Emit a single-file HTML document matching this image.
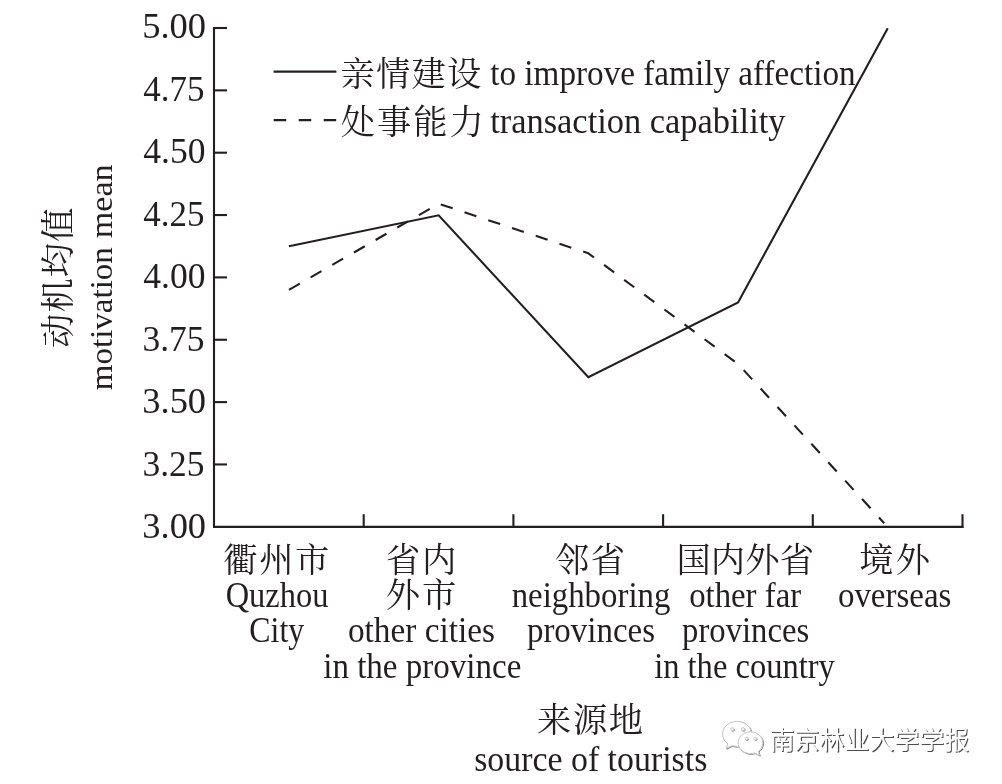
<!DOCTYPE html>
<html lang="zh">
<head>
<meta charset="utf-8">
<title>动机均值 motivation mean — 来源地 source of tourists</title>
<style>
html,body{margin:0;padding:0;background:#fff;}
body{width:1002px;height:784px;overflow:hidden;}
svg{display:block;}
text{fill:#231f20;white-space:pre;}
.la,.num{font-family:"Liberation Serif","Noto Serif CJK SC",serif;}
.cj{font-family:"Noto Serif CJK SC","Liberation Serif",serif;}
.ln{stroke:#231f20;stroke-width:2.1;fill:none;}
.wm{font-family:"Liberation Sans","Noto Sans CJK SC",sans-serif;}
</style>
</head>
<body>
<svg width="1002" height="784" viewBox="0 0 1002 784">
<rect x="0" y="0" width="1002" height="784" fill="#ffffff"/>

<g class="ln" id="axes">
<path d="M214.00 27.80 V526.85 H963.50"/>
<path d="M212.95 28.00 H227"/>
<path d="M212.95 90.35 H227"/>
<path d="M212.95 152.70 H227"/>
<path d="M212.95 215.05 H227"/>
<path d="M212.95 277.40 H227"/>
<path d="M212.95 339.75 H227"/>
<path d="M212.95 402.10 H227"/>
<path d="M212.95 464.45 H227"/>
<path d="M363.70 527.9 V514.2"/>
<path d="M513.40 527.9 V514.2"/>
<path d="M663.10 527.9 V514.2"/>
<path d="M812.80 527.9 V514.2"/>
<path d="M962.50 527.9 V514.2"/>
</g>
<g id="data">
<polyline class="ln" stroke-width="2" stroke-linejoin="miter" points="288.95,246.20 438.65,215.30 588.35,377.20 738.05,302.40 887.75,28.20"/>
<polyline class="ln" stroke-width="2" stroke-linejoin="round" stroke-dasharray="12.5 12.5" points="288.95,289.90 438.65,203.70 588.35,253.30 738.05,364.00 884.20,523.20"/>
</g>
<g id="legend"><path class="ln" d="M273.6 71.6 H336.4"/>
<path class="ln" d="M273.7 120.1 H336.4" stroke-dasharray="12.5 12.5"/></g>
<text id="lg1c" class="cj" font-size="34.30" x="340.44" y="85.60" textLength="140.99" lengthAdjust="spacing">亲情建设</text>
<text id="lg1l" class="la" font-size="35.00" x="490.22" y="85.20" textLength="365.46" lengthAdjust="spacingAndGlyphs">to improve family affection</text>
<text id="lg2c" class="cj" font-size="34.30" x="340.68" y="133.60" textLength="143.07" lengthAdjust="spacing">处事能力</text>
<text id="lg2l" class="la" font-size="35.00" x="490.20" y="133.40" textLength="295.29" lengthAdjust="spacingAndGlyphs">transaction capability</text>
<text id="x1a" class="cj" font-size="34.30" x="223.25" y="572.00" textLength="106.14" lengthAdjust="spacing">衢州市</text>
<text id="x1b" class="la" font-size="35.00" x="225.64" y="607.10" textLength="102.75" lengthAdjust="spacingAndGlyphs">Quzhou</text>
<text id="x1c" class="la" font-size="35.00" x="249.36" y="642.40" textLength="54.89" lengthAdjust="spacingAndGlyphs">City</text>
<text id="x2a" class="cj" font-size="34.30" x="385.89" y="572.00" textLength="70.37" lengthAdjust="spacing">省内</text>
<text id="x2b" class="cj" font-size="34.30" x="385.84" y="607.00" textLength="70.47" lengthAdjust="spacing">外市</text>
<text id="x2c" class="la" font-size="35.00" x="347.99" y="642.40" textLength="146.88" lengthAdjust="spacingAndGlyphs">other cities</text>
<text id="x2d" class="la" font-size="35.00" x="323.23" y="677.50" textLength="198.13" lengthAdjust="spacingAndGlyphs">in the province</text>
<text id="x3a" class="cj" font-size="34.30" x="554.91" y="572.00" textLength="70.27" lengthAdjust="spacing">邻省</text>
<text id="x3b" class="la" font-size="35.00" x="511.63" y="607.10" textLength="158.78" lengthAdjust="spacingAndGlyphs">neighboring</text>
<text id="x3c" class="la" font-size="35.00" x="526.93" y="642.40" textLength="128.08" lengthAdjust="spacingAndGlyphs">provinces</text>
<text id="x4a" class="cj" font-size="34.30" x="676.41" y="572.00" textLength="137.58" lengthAdjust="spacing">国内外省</text>
<text id="x4b" class="la" font-size="35.00" x="689.13" y="607.10" textLength="112.02" lengthAdjust="spacingAndGlyphs">other far</text>
<text id="x4c" class="la" font-size="35.00" x="682.08" y="642.40" textLength="127.10" lengthAdjust="spacingAndGlyphs">provinces</text>
<text id="x4d" class="la" font-size="35.00" x="654.13" y="677.50" textLength="180.73" lengthAdjust="spacingAndGlyphs">in the country</text>
<text id="x5a" class="cj" font-size="34.30" x="859.17" y="572.00" textLength="70.94" lengthAdjust="spacing">境外</text>
<text id="x5b" class="la" font-size="35.00" x="837.91" y="607.10" textLength="113.51" lengthAdjust="spacingAndGlyphs">overseas</text>
<text id="xt1" class="cj" font-size="34.30" x="537.06" y="731.80" textLength="106.11" lengthAdjust="spacing">来源地</text>
<text id="xt2" class="la" font-size="35.00" x="474.16" y="771.00" textLength="233.16" lengthAdjust="spacingAndGlyphs">source of tourists</text>
<text id="yl1" class="cj" font-size="34.30" transform="translate(69.80,0) rotate(-90)" x="-347.92" y="0" textLength="140.31" lengthAdjust="spacing">动机均值</text>
<text id="yl2" class="la" font-size="32.60" transform="translate(111.80,0) rotate(-90)" x="-390.16" y="0" textLength="143.03" lengthAdjust="spacingAndGlyphs">motivation</text>
<text id="yl3" class="la" font-size="32.60" transform="translate(111.80,0) rotate(-90)" x="-238.23" y="0" textLength="73.91" lengthAdjust="spacingAndGlyphs">mean</text>
<text id="yt0" class="num" font-size="36.00" transform="translate(142.13,38.45) scale(1,1.020)" textLength="63.90" lengthAdjust="spacingAndGlyphs">5.00</text>
<text id="yt1" class="num" font-size="36.00" transform="translate(143.32,100.92) scale(1,1.020)" textLength="61.23" lengthAdjust="spacingAndGlyphs">4.75</text>
<text id="yt2" class="num" font-size="36.00" transform="translate(143.35,163.39) scale(1,1.020)" textLength="62.19" lengthAdjust="spacingAndGlyphs">4.50</text>
<text id="yt3" class="num" font-size="36.00" transform="translate(143.32,225.86) scale(1,1.020)" textLength="61.23" lengthAdjust="spacingAndGlyphs">4.25</text>
<text id="yt4" class="num" font-size="36.00" transform="translate(143.35,288.33) scale(1,1.020)" textLength="62.19" lengthAdjust="spacingAndGlyphs">4.00</text>
<text id="yt5" class="num" font-size="36.00" transform="translate(142.46,350.80) scale(1,1.020)" textLength="62.11" lengthAdjust="spacingAndGlyphs">3.75</text>
<text id="yt6" class="num" font-size="36.00" transform="translate(142.31,413.27) scale(1,1.020)" textLength="63.76" lengthAdjust="spacingAndGlyphs">3.50</text>
<text id="yt7" class="num" font-size="36.00" transform="translate(142.46,475.74) scale(1,1.020)" textLength="62.11" lengthAdjust="spacingAndGlyphs">3.25</text>
<text id="yt8" class="num" font-size="36.00" transform="translate(142.31,538.21) scale(1,1.020)" textLength="63.76" lengthAdjust="spacingAndGlyphs">3.00</text>
<g id="wm">
<g transform="translate(0.7,0.7)" fill="#ffffff" stroke="#777777" stroke-width="1">
<path d="M737 721.4c-8 0-14.400 5.600-14.400 12.600c0 4 2.100 7.500 5.400 9.800l-1.800 4.600l5.600-2.800c1.600 0.500 3.400 0.800 5.200 0.800c8 0 14.400-5.600 14.400-12.400c0-7-6.400-12.600-14.400-12.600z"/>
<path d="M750.400 731.800c-6.800 0-12.300 4.900-12.300 10.900c0 6 5.500 10.900 12.300 10.900c1.500 0 3-0.300 4.400-0.700l4.800 2.500l-1.400-4c2.900-2 4.600-5.100 4.600-8.700c0-6-5.600-10.900-12.400-10.900z"/>
</g>
<g fill="#ffffff" stroke="#c4c4c4" stroke-width="1">
<path d="M737 721.4c-8 0-14.400 5.600-14.400 12.600c0 4 2.100 7.500 5.400 9.800l-1.800 4.600l5.600-2.800c1.600 0.500 3.400 0.800 5.200 0.800c8 0 14.400-5.600 14.400-12.400c0-7-6.400-12.600-14.400-12.600z"/>
<path d="M750.400 731.800c-6.800 0-12.300 4.900-12.300 10.900c0 6 5.500 10.900 12.300 10.900c1.500 0 3-0.300 4.400-0.700l4.800 2.500l-1.400-4c2.900-2 4.600-5.100 4.600-8.700c0-6-5.600-10.900-12.400-10.900z"/>
</g>
<g transform="translate(0.6,0.6)" fill="#ffffff" stroke="#777777" stroke-width="0.9">
<circle cx="732.2" cy="729.2" r="1.500"/><circle cx="743" cy="729.2" r="1.500"/>
<circle cx="746.400" cy="738.600" r="1.300"/><circle cx="755.200" cy="738.600" r="1.300"/>
</g>
<g fill="#ffffff" stroke="#c4c4c4" stroke-width="0.9">
<circle cx="732.2" cy="729.2" r="1.500"/><circle cx="743" cy="729.2" r="1.500"/>
<circle cx="746.400" cy="738.600" r="1.300"/><circle cx="755.200" cy="738.600" r="1.300"/>
</g>
<text class="wm" x="770.5" y="749.6" font-size="25" textLength="199.8" lengthAdjust="spacing" style="fill:#4d4d4d">南京林业大学学报</text>
<text class="wm" x="769.4" y="748.5" font-size="25" textLength="199.8" lengthAdjust="spacing" style="fill:#ffffff">南京林业大学学报</text>
</g>

</svg>
</body>
</html>
